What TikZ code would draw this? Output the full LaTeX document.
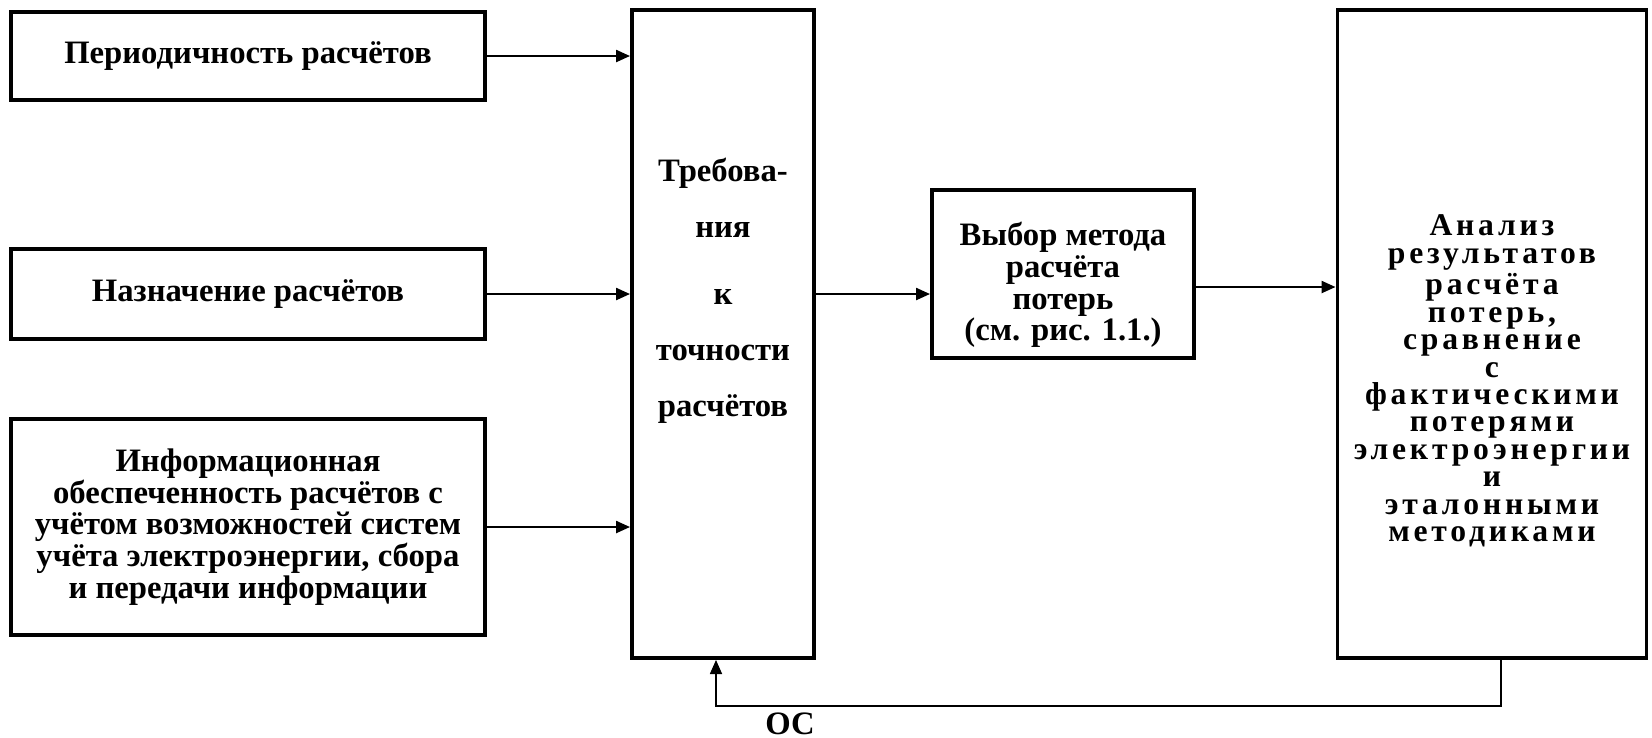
\documentclass[tikz,border=0pt]{standalone}
\usepackage{fontspec}
\setmainfont{Liberation Serif}
\newfontfamily\widefont[LetterSpace=12]{Liberation Serif}
\usetikzlibrary{positioning, arrows.meta, calc}

\begin{document}
\begin{tikzpicture}[x=0.1mm, y=-0.1mm,
  blk/.style={draw, line width=1.1pt, inner sep=0pt, align=center,
    font=\bfseries\fontsize{9.3}{9}\selectfont},
  txt/.style={align=center, font=\bfseries\fontsize{9.3}{9}\selectfont},
  arr/.style={-{Triangle[length=4pt, width=3.4pt]}, line width=0.7pt}]
\useasboundingbox (0,0) rectangle (1652,737);
\node (per) [blk, minimum width=47.4mm, minimum height=8.8mm] at (248,56) {Периодичность расчётов};
\node (nazn) [blk, minimum width=47.4mm, minimum height=9.0mm] at (248,294) {Назначение расчётов};
\node (info) [blk, minimum width=47.4mm, minimum height=21.6mm] at (248,527)
  {Информационная\\обеспеченность расчётов с\\учётом возможностей систем\\учёта электроэнергии, сбора\\и передачи информации};
\node (req) [blk, minimum width=18.2mm, minimum height=64.8mm] at (723,334) {};
\node (reqtxt) [txt, font=\bfseries\fontsize{9.3}{16}\selectfont] at (723,291)
  {Требова-\\ния\\[3pt]к\\точности\\расчётов};
\node (sel) [blk, minimum width=26.2mm, minimum height=16.8mm] at (1063,274) {};
\node (seltxt) [txt] at (1063,285) {Выбор метода\\расчёта\\потерь\\(см. рис. 1.1.)};
\node (res) [blk, minimum width=30.9mm, minimum height=64.8mm] at (1492,334) {};
\node (restxt) [txt, font=\widefont\bfseries\fontsize{9}{7.8}\selectfont] at (1492,381)
  {Анализ\\результатов\\расчёта\\потерь,\\сравнение\\с\\фактическими\\потерями\\электроэнергии\\и\\эталонными\\методиками};
\node (oc) [txt] at (790,724) {ОС};
\draw[arr] (per.east) -- (per.east -| req.west);
\draw[arr] (nazn.east) -- (nazn.east -| req.west);
\draw[arr] (info.east) -- (info.east -| req.west);
\draw[arr] (req.east |- nazn.east) -- (nazn.east -| sel.west);
\draw[arr] ([yshift=-1.3mm]sel.east) -- ([yshift=-1.3mm]sel.east -| res.west);
\draw[arr, line width=0.5pt] ([xshift=0.9mm]res.south) -- ++(0,46) -| ([xshift=-0.7mm]req.south);
\end{tikzpicture}
\end{document}
